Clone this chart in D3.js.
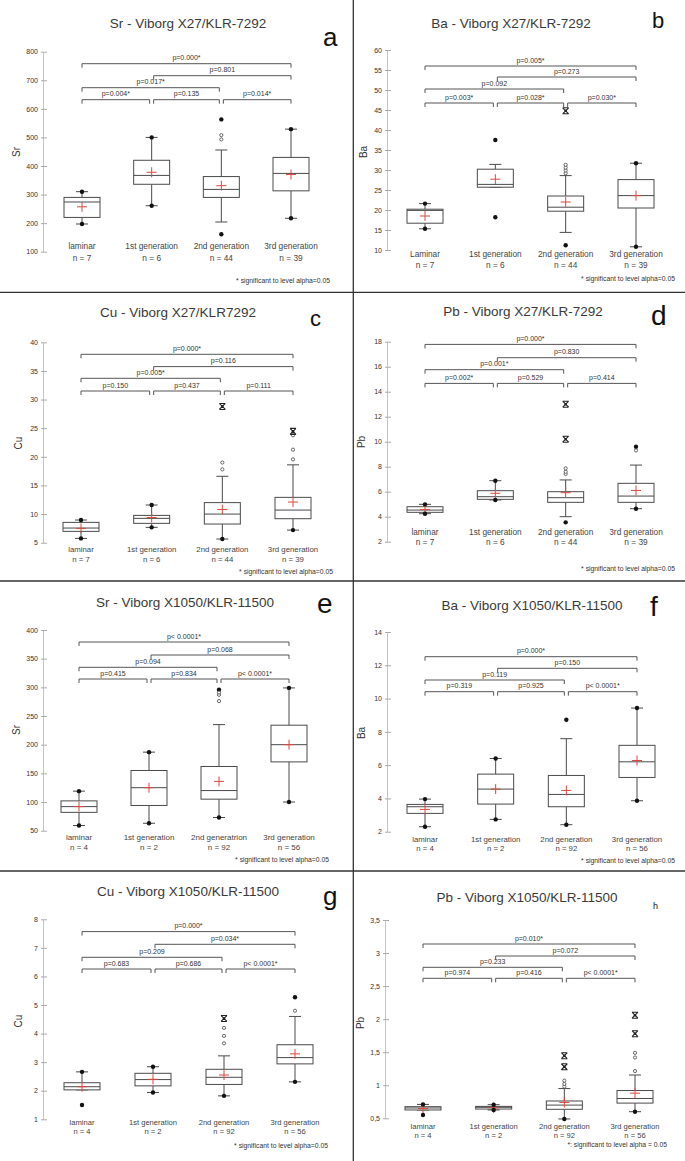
<!DOCTYPE html>
<html>
<head>
<meta charset="utf-8">
<script src="https://cdn.jsdelivr.net/npm/d3@7"></script>
<style>
body { margin: 0; background: #fff; }
svg { display: block; font-family: "Liberation Sans", Arial, sans-serif; }
</style>
</head>
<body>
<svg width="685" height="1161"></svg>
<script>
// categories and sample sizes
const catsX27 = ["laminar", "1st generation", "2nd generation", "3rd generation"]
const catsX27b = ["Laminar", "1st generation", "2nd generation", "3rd generation"]
const catsX1050 = ["laminar", "1st generation", "2nd generation", "3rd generation"]
const catsX1050e = ["laminar", "1st generation", "2nd generatrion", "3rd generation"]
const nX27 = [7, 6, 44, 39]
const nX1050 = [4, 2, 92, 56]

// box rows: [whisker low, q1, median, q3, whisker high, mean]
// dots = black min/max points, out = open circles, ext = extreme outliers

// a - Sr X27
const srX27Ticks = [100, 200, 300, 400, 500, 600, 700, 800]
const srX27Box = [[197, 220, 274, 290, 310, 257], [261, 336, 367, 420, 500, 378], [204, 290, 318, 363, 456, 331], [217, 313, 374, 430, 529, 370]]
const srX27Dots = [[197, 310], [261, 500], [161, 563], [217, 529]]
const srX27Out = [[], [], [493, 508], []]
const srX27Ext = [[], [], [], []]
const srX27P = ["p=0.004*", "p=0.135", "p=0.014*", "p=0.017*", "p=0.801", "p=0.000*"]

// b - Ba X27
const baX27Ticks = [10, 15, 20, 25, 30, 35, 40, 45, 50, 55, 60]
const baX27Box = [[15.3, 16.7, 19.9, 20.2, 21.6, 18.5], [25.7, 25.7, 26.4, 30.2, 31.4, 27.7], [14.4, 19.7, 20.7, 23.5, 28.6, 22.0], [10.8, 20.5, 23.6, 27.6, 31.7, 23.6]]
const baX27Dots = [[15.3, 21.6], [18.2, 37.5], [11.2], [10.8, 31.7]]
const baX27Out = [[], [], [29.2, 29.9, 30.6, 31.3], []]
const baX27Ext = [[], [], [44.8], []]
const baX27P = ["p=0.003*", "p=0.028*", "p=0.030*", "p=0.092", "p=0.273", "p=0.005*"]

// c - Cu X27
const cuX27Ticks = [5, 10, 15, 20, 25, 30, 35, 40]
const cuX27Box = [[5.75, 6.98, 7.56, 8.55, 8.96, 7.5], [7.68, 8.38, 9.25, 9.77, 11.58, 9.4], [5.64, 8.26, 10.0, 12.0, 16.6, 10.8], [7.2, 9.19, 10.7, 12.92, 18.6, 12.1]]
const cuX27Dots = [[5.75, 8.96], [7.68, 11.58], [5.64], [7.2]]
const cuX27Out = [[], [], [17.8, 19.0], [19.55, 21.25, 23.75]]
const cuX27Ext = [[], [], [28.8], [24.45]]
const cuX27P = ["p=0.150", "p=0.437", "p=0.111", "p=0.005*", "p=0.116", "p=0.000*"]

// d - Pb X27
const pbX27Ticks = [2, 4, 6, 8, 10, 12, 14, 16, 18]
const pbX27Box = [[4.24, 4.35, 4.53, 4.8, 4.99, 4.58], [5.34, 5.39, 5.6, 6.08, 6.88, 5.87], [4.0, 5.15, 5.52, 6.0, 6.94, 5.92], [4.64, 5.15, 5.65, 6.67, 8.13, 6.1]]
const pbX27Dots = [[4.24, 4.99], [5.34, 6.88], [3.55], [4.64, 9.6]]
const pbX27Out = [[], [], [7.42, 7.6, 7.87], [9.3]]
const pbX27Ext = [[], [], [10.2, 13.0], []]
const pbX27P = ["p=0.002*", "p=0.529", "p=0.414", "p=0.001*", "p=0.830", "p=0.000*"]

// e - Sr X1050
const srX1050Ticks = [50, 100, 150, 200, 250, 300, 350, 400]
const srX1050Box = [[59, 82, 92, 102, 119, 92], [63, 94, 125, 155, 187, 125], [73, 105, 120, 162, 235, 136], [100, 170, 200, 234, 299, 200]]
const srX1050Dots = [[59, 119], [63, 187], [73, 296], [100, 299]]
const srX1050Out = [[], [], [276, 287, 291], []]
const srX1050Ext = [[], [], [], []]
const srX1050P = ["p=0.415", "p=0.834", "p< 0.0001*", "p=0.094", "p=0.068", "p< 0.0001*"]

// f - Ba X1050
const baX1050Ticks = [2, 4, 6, 8, 10, 12, 14]
const baX1050Box = [[2.3, 3.1, 3.5, 3.64, 3.96, 3.34], [2.74, 3.66, 4.56, 5.46, 6.4, 4.56], [2.42, 3.5, 4.24, 5.38, 7.59, 4.48], [3.86, 5.26, 6.2, 7.19, 9.43, 6.28]]
const baX1050Dots = [[2.3, 3.96], [2.74, 6.4], [2.42, 8.73], [3.86, 9.43]]
const baX1050Out = [[], [], [], []]
const baX1050Ext = [[], [], [], []]
const baX1050P = ["p=0.319", "p=0.925", "p< 0.0001*", "p=0.119", "p=0.150", "p=0.000*"]

// g - Cu X1050
const cuX1050Ticks = [1, 2, 3, 4, 5, 6, 7, 8]
const cuX1050Box = [[2.03, 2.03, 2.14, 2.28, 2.66, 2.14], [1.94, 2.17, 2.39, 2.61, 2.84, 2.4], [1.82, 2.22, 2.47, 2.75, 3.22, 2.55], [2.31, 2.94, 3.16, 3.61, 4.6, 3.29]]
const cuX1050Dots = [[1.5, 2.66], [1.94, 2.84], [1.82], [2.31, 5.27]]
const cuX1050Out = [[], [], [3.66, 3.92, 4.2], [4.8]]
const cuX1050Ext = [[], [], [4.53], []]
const cuX1050P = ["p=0.683", "p=0.686", "p< 0.0001*", "p=0.209", "p=0.034*", "p=0.000*"]

// h - Pb X1050
const pbX1050Ticks = [0.5, 1, 1.5, 2, 2.5, 3, 3.5]
const pbX1050Box = [[0.626, 0.626, 0.656, 0.676, 0.71, 0.647], [0.626, 0.64, 0.666, 0.68, 0.706, 0.66], [0.49, 0.636, 0.70, 0.762, 0.95, 0.74], [0.60, 0.73, 0.80, 0.92, 1.155, 0.88]]
const pbX1050Dots = [[0.55, 0.71], [0.626, 0.706], [0.49], [0.60]]
const pbX1050Out = [[], [], [0.98, 1.02, 1.07], [1.215, 1.42, 1.49]]
const pbX1050Ext = [[], [], [1.28, 1.447], [1.78, 2.06]]
const pbX1050P = ["p=0.974", "p=0.416", "p< 0.0001*", "p=0.233", "p=0.072", "p=0.010*"]

const note = "* significant to level alpha=0.05"
const commaFmt = d => String(d).replace('.', ',')

//panel table built from the arrays above + where each one sits on the page
// cat: [label baseline, n baseline, font size]
const panels = [
	{title: "Sr - Viborg X27/KLR-7292", letter: "a", ylab: "Sr", cats: catsX27, n: nX27, ticks: srX27Ticks,
	 box: srX27Box, dots: srX27Dots, out: srX27Out, ext: srX27Ext, p: srX27P, note: note,
	 L: {title: [188, 28], let: [323, 46, 26], axisX: 43, yr: [251.7, 51.7], xr: [82, 291], br: [48, 36, 24, 12],
	     cat: [249, 261, 8.3], foot: [330, 283], ylab: [20, 152]}},
	{title: "Ba - Viborg X27/KLR-7292", letter: "b", ylab: "Ba", cats: catsX27b, n: nX27, ticks: baX27Ticks,
	 box: baX27Box, dots: baX27Dots, out: baX27Out, ext: baX27Ext, p: baX27P, note: note,
	 L: {title: [511, 28], let: [652, 28, 22], axisX: 387, yr: [250, 50], xr: [425, 636], br: [53, 39, 27, 16],
	     cat: [257, 268, 8.3], foot: [675, 281], ylab: [367, 152]}},
	{title: "Cu - Viborg X27/KLR7292", letter: "c", ylab: "Cu", cats: catsX27, n: nX27, ticks: cuX27Ticks,
	 box: cuX27Box, dots: cuX27Dots, out: cuX27Out, ext: cuX27Ext, p: cuX27P, note: note,
	 L: {title: [178, 317], let: [310, 326, 22], axisX: 43, yr: [542.7, 342.3], xr: [81, 293], br: [48.7, 36, 24.3, 12],
	     cat: [552, 561.5, 7.8], foot: [333, 574], ylab: [22, 443]}},
	{title: "Pb - Viborg X27/KLR-7292", letter: "d", ylab: "Pb", cats: catsX27, n: nX27, ticks: pbX27Ticks,
	 box: pbX27Box, dots: pbX27Dots, out: pbX27Out, ext: pbX27Ext, p: pbX27P, note: note,
	 L: {title: [523, 316], let: [651, 325, 28], axisX: 387, yr: [541.7, 341.7], xr: [425, 636], br: [41.7, 28, 16, 2.7],
	     cat: [535, 545, 8.3], foot: [675, 571], ylab: [365, 442]}},
	{title: "Sr - Viborg X1050/KLR-11500", letter: "e", ylab: "Sr", cats: catsX1050e, n: nX1050, ticks: srX1050Ticks,
	 box: srX1050Box, dots: srX1050Dots, out: srX1050Out, ext: srX1050Ext, p: srX1050P, note: note,
	 L: {title: [185, 607], let: [317, 613, 28], axisX: 43, yr: [830.7, 630], xr: [79, 289], br: [49, 37.3, 25, 12],
	     cat: [840, 849.5, 8], foot: [329, 862], ylab: [20, 730]}},
	{title: "Ba - Viborg X1050/KLR-11500", letter: "f", ylab: "Ba", cats: catsX1050, n: nX1050, ticks: baX1050Ticks,
	 box: baX1050Box, dots: baX1050Dots, out: baX1050Out, ext: baX1050Ext, p: baX1050P, note: note,
	 L: {title: [532, 610], let: [650, 616, 28], axisX: 387, yr: [831.7, 632], xr: [425, 637], br: [59.7, 48, 36.3, 24.7],
	     cat: [841.5, 850.5, 7.8], foot: [675, 863], ylab: [365, 733]}},
	{title: "Cu - Viborg X1050/KLR-11500", letter: "g", ylab: "Cu", cats: catsX1050, n: nX1050, ticks: cuX1050Ticks,
	 box: cuX1050Box, dots: cuX1050Dots, out: cuX1050Out, ext: cuX1050Ext, p: cuX1050P, note: note,
	 L: {title: [188, 896], let: [323, 905, 26], axisX: 43, yr: [1119.3, 919.3], xr: [82, 295], br: [49.7, 38, 25, 12.3],
	     cat: [1124.5, 1133.5, 7.6], foot: [328, 1148], ylab: [22, 1021]}},
	{title: "Pb - Viborg X1050/KLR-11500", letter: "h", ylab: "Pb", cats: catsX1050, n: nX1050, ticks: pbX1050Ticks, fmt: commaFmt,
	 box: pbX1050Box, dots: pbX1050Dots, out: pbX1050Out, ext: pbX1050Ext, p: pbX1050P, note: "*: significant to level alpha = 0.05",
	 L: {title: [527, 902], let: [653, 909, 9], axisX: 385, yr: [1118.3, 920], xr: [423, 635], br: [58.3, 47.3, 36, 24],
	     cat: [1128.5, 1137.5, 7.6], foot: [667, 1147], ylab: [364, 1023]}}
]

const svg = d3.select('svg')

// panel frame lines
svg.append('line').attr('x1', 353.3).attr('x2', 353.3).attr('y1', 0).attr('y2', 1161)
	.attr('stroke', '#333').attr('stroke-width', 1.3)
;[292.3, 581, 871].forEach(yy => {
	svg.append('line').attr('x1', 0).attr('x2', 685).attr('y1', yy).attr('y2', yy)
		.attr('stroke', '#333').attr('stroke-width', 1.3)
})

// extreme outlier marker, an X closed at top and bottom
const starSym = {
	draw(ctx, size) {
		const r = Math.sqrt(size) / 2
		ctx.moveTo(-r, -r); ctx.lineTo(r, r)
		ctx.moveTo(r, -r); ctx.lineTo(-r, r)
		ctx.moveTo(-r, -r); ctx.lineTo(r, -r)
		ctx.moveTo(-r, r); ctx.lineTo(r, r)
	}
}

const pairs = [[0, 1], [1, 2], [2, 3], [0, 2], [1, 3], [0, 3]]
const pairLevel = [0, 0, 0, 1, 2, 3]
const boxW = 36, capW = 12

const drawPanel = (p) => {
	const L = p.L
	const g = svg.append('g')

	const y = d3.scaleLinear()
		.domain([p.ticks[0], p.ticks[p.ticks.length - 1]])
		.range(L.yr)
	const x = d3.scalePoint()
		.domain(p.cats)
		.range(L.xr)

	// title + panel letter
	g.append('text').attr('x', L.title[0]).attr('y', L.title[1])
		.attr('text-anchor', 'middle').attr('fill', '#3a3a3a').style('font-size', '13.5px')
		.text(p.title)
	g.append('text').attr('x', L.let[0]).attr('y', L.let[1])
		.attr('fill', '#111').style('font-size', L.let[2] + 'px')
		.text(p.letter)

	// y axis
	const ax = g.append('g')
		.attr('transform', `translate(${L.axisX},0)`)
		.call(d3.axisLeft(y).tickValues(p.ticks).tickSize(-4).tickSizeOuter(0).tickPadding(5)
			.tickFormat(p.fmt || d3.format('')))
	ax.attr('font-size', null).attr('font-family', null)
	ax.select('.domain').attr('stroke', '#c4c4c4')
	ax.selectAll('.tick line').attr('stroke', '#aaa').attr('x1', -2).attr('x2', 4)
	ax.selectAll('.tick text').attr('fill', '#333').style('font-size', '7px')

	g.append('text')
		.attr('transform', `translate(${L.ylab[0]},${L.ylab[1]}) rotate(-90)`)
		.attr('text-anchor', 'middle').attr('fill', '#333').style('font-size', '10px')
		.text(p.ylab)

	// significance brackets
	pairs.forEach(([i, j], k) => {
		const by = L.yr[1] + L.br[pairLevel[k]]
		const x1 = x(p.cats[i]) + (i > 0 ? 2 : 0)
		const x2 = x(p.cats[j]) - (j < 3 ? 2 : 0)
		g.append('path')
			.attr('d', `M${x1},${by + 4}V${by}H${x2}V${by + 4}`)
			.attr('fill', 'none').attr('stroke', '#555').attr('stroke-width', 1)
		g.append('text').attr('x', (x1 + x2) / 2).attr('y', by - 3.5)
			.attr('text-anchor', 'middle').attr('fill', '#333').style('font-size', '7px')
			.text(p.p[k])
	})

	const rows = p.cats.map((c, i) => ({
		cat: c, lo: p.box[i][0], q1: p.box[i][1], med: p.box[i][2], q3: p.box[i][3], hi: p.box[i][4], mean: p.box[i][5],
		dots: p.dots[i], out: p.out[i], ext: p.ext[i], n: p.n[i]
	}))

	const bx = g.selectAll('g.box')
		.data(rows)
		.join('g')
		.attr('class', 'box')
		.attr('transform', d => `translate(${x(d.cat)},0)`)

	const stroke = '#4a4a4a'
	// whiskers
	bx.append('line').attr('y1', d => y(d.lo)).attr('y2', d => y(d.q1)).attr('stroke', stroke)
	bx.append('line').attr('y1', d => y(d.q3)).attr('y2', d => y(d.hi)).attr('stroke', stroke)
	bx.append('line').attr('x1', -capW / 2).attr('x2', capW / 2).attr('y1', d => y(d.lo)).attr('y2', d => y(d.lo)).attr('stroke', stroke)
	bx.append('line').attr('x1', -capW / 2).attr('x2', capW / 2).attr('y1', d => y(d.hi)).attr('y2', d => y(d.hi)).attr('stroke', stroke)
	// box
	bx.append('rect')
		.attr('x', -boxW / 2).attr('width', boxW)
		.attr('y', d => y(d.q3)).attr('height', d => y(d.q1) - y(d.q3))
		.attr('fill', '#fff').attr('stroke', stroke).attr('stroke-width', 1)
	bx.append('line').attr('x1', -boxW / 2).attr('x2', boxW / 2)
		.attr('y1', d => y(d.med)).attr('y2', d => y(d.med)).attr('stroke', stroke)
	// mean
	bx.append('path')
		.attr('d', d => `M-5,${y(d.mean)}H5M0,${y(d.mean) - 5}V${y(d.mean) + 5}`)
		.attr('stroke', '#e0463c').attr('stroke-width', 1).attr('fill', 'none')
	// min / max points
	bx.selectAll('circle.dot').data(d => d.dots).join('circle')
		.attr('class', 'dot').attr('cy', d => y(d)).attr('r', 2.2).attr('fill', '#111')
	bx.selectAll('circle.out').data(d => d.out).join('circle')
		.attr('class', 'out').attr('cy', d => y(d)).attr('r', 1.6)
		.attr('fill', '#fff').attr('stroke', '#444').attr('stroke-width', 0.8)
	const sym = d3.symbol().type(starSym).size(36)
	bx.selectAll('path.ext').data(d => d.ext).join('path')
		.attr('class', 'ext').attr('d', sym)
		.attr('transform', d => `translate(0,${y(d)})`)
		.attr('stroke', '#222').attr('stroke-width', 1.1).attr('fill', 'none')
	bx.selectAll('circle.extc').data(d => d.ext).join('circle')
		.attr('class', 'extc').attr('cy', d => y(d)).attr('r', 1.3).attr('fill', '#222')

	// category labels
	bx.append('text').attr('y', L.cat[0]).attr('text-anchor', 'middle')
		.attr('fill', '#444').style('font-size', L.cat[2] + 'px').text(d => d.cat)
	bx.append('text').attr('y', L.cat[1]).attr('text-anchor', 'middle')
		.attr('fill', '#444').style('font-size', L.cat[2] + 'px').text(d => 'n = ' + d.n)

	g.append('text').attr('x', L.foot[0]).attr('y', L.foot[1])
		.attr('text-anchor', 'end').attr('fill', '#333').style('font-size', '6.8px')
		.text(p.note)
}

panels.forEach(drawPanel)
</script>
</body>
</html>
